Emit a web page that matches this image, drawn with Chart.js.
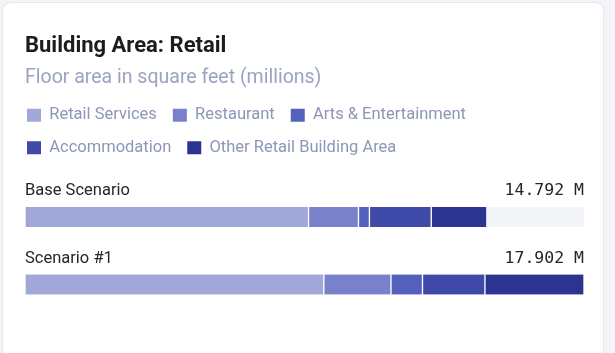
<!DOCTYPE html>
<html>
<head>
<meta charset="utf-8">
<script src="https://cdn.jsdelivr.net/npm/chart.js@4.4.1/dist/chart.umd.min.js"></script>
<style>
  html, body { margin: 0; padding: 0; background: #f3f4f7; }
  body { width: 615px; height: 353px; position: relative; overflow: hidden; }
  .card {
    position: absolute; left: 2px; top: 2px; width: 600px; height: 380px;
    background: #fff; border: 1px solid #e4e7ed; border-radius: 8px;
  }
  #chartWrap { position: absolute; left: 0; top: 0; width: 615px; height: 353px; }
</style>
</head>
<body>
<div class="card"></div>
<div id="chartWrap"><canvas id="areaChart"></canvas></div>
<script>
// Scenarios (one bar each) and floor area per use, in millions of sq ft
const scenarios = ['Base Scenario', 'Scenario #1'];
const useTypes = ['Retail Services', 'Restaurant', 'Arts & Entertainment', 'Accommodation', 'Other Retail Building Area'];
const retailServices = [9.08, 9.57];
const restaurant = [1.60, 2.15];
const artsEntertainment = [0.35, 1.01];
const accommodation = [1.98, 2.00];
const otherRetail = [1.782, 3.172];
const useColors = ['#a2a7da', '#7a81cb', '#5361bd', '#3f49a8', '#2c3492'];

const seriesValues = [retailServices, restaurant, artsEntertainment, accommodation, otherRetail];
const totals = scenarios.map((_, i) => seriesValues.reduce((sum, s) => sum + s[i], 0));
const xMax = Math.max(...totals);

// Grey track behind each bar, full scale width
const barTrack = {
  id: 'barTrack',
  beforeDatasetsDraw(chart) {
    const { ctx, scales: { x } } = chart;
    const meta = chart.getDatasetMeta(0);
    ctx.save();
    ctx.fillStyle = '#f3f5f9';
    meta.data.forEach((bar) => {
      const left = x.getPixelForValue(0);
      const right = x.getPixelForValue(xMax);
      ctx.fillRect(left, bar.y - bar.height / 2, right - left, bar.height);
    });
    ctx.restore();
  }
};

// Scenario name on the left and total on the right, above each bar
const barCaptions = {
  id: 'barCaptions',
  afterDatasetsDraw(chart) {
    const { ctx, chartArea } = chart;
    const meta = chart.getDatasetMeta(0);
    ctx.save();
    ctx.textBaseline = 'alphabetic';
    meta.data.forEach((bar, i) => {
      const y = bar.y - bar.height / 2 - 12;
      ctx.fillStyle = '#262629';
      ctx.font = '16.5px Roboto';
      ctx.textAlign = 'left';
      ctx.fillText(scenarios[i], chartArea.left, y);
      ctx.font = '16.5px "DejaVu Sans Mono"';
      ctx.textAlign = 'right';
      ctx.fillText(totals[i].toFixed(3) + ' M', chartArea.right, y);
    });
    ctx.restore();
  }
};

// Legend spacing tweaks: extra room under it, boxes flush with the title
const legendSpacing = {
  id: 'legendSpacing',
  beforeInit(chart) {
    const fit = chart.legend.fit;
    chart.legend.fit = function () {
      fit.call(this);
      this.height += 17.25;
    };
  },
  afterLayout(chart) {
    chart.legend.left -= 14;
  }
};

new Chart(document.getElementById('areaChart'), {
  type: 'bar',
  data: {
    labels: scenarios,
    datasets: useTypes.map((name, i) => ({
      label: name,
      data: seriesValues[i],
      backgroundColor: useColors[i],
      borderColor: '#ffffff',
      borderWidth: { left: 1, right: 1, top: 0, bottom: 0 },
      borderSkipped: false,
      barThickness: 20
    }))
  },
  options: {
    indexAxis: 'y',
    responsive: true,
    maintainAspectRatio: false,
    animation: false,
    layout: { padding: { left: 25, right: 31, top: 0, bottom: 34.75 } },
    scales: {
      x: { stacked: true, min: 0, max: xMax, display: false },
      y: { stacked: true, display: false }
    },
    plugins: {
      title: {
        display: true,
        text: 'Building Area: Retail',
        align: 'start',
        color: '#1c1c20',
        font: { family: 'Roboto', size: 22, weight: 'bold' },
        padding: { top: 33.3, bottom: 0 }
      },
      subtitle: {
        display: true,
        text: 'Floor area in square feet (millions)',
        align: 'start',
        color: '#9aa3bf',
        font: { family: 'Roboto', size: 19.5 },
        padding: { top: 6.6, bottom: 1.3 }
      },
      legend: {
        position: 'top',
        align: 'start',
        labels: {
          boxWidth: 14,
          boxHeight: 13,
          padding: 16,
          color: '#8d96b6',
          font: { family: 'Roboto', size: 16.5 },
          generateLabels(chart) {
            return Chart.defaults.plugins.legend.labels.generateLabels(chart)
              .map(item => ({ ...item, lineWidth: 0 }));
          }
        }
      },
      tooltip: { enabled: false }
    }
  },
  plugins: [barTrack, barCaptions, legendSpacing]
});
</script>
</body>
</html>
